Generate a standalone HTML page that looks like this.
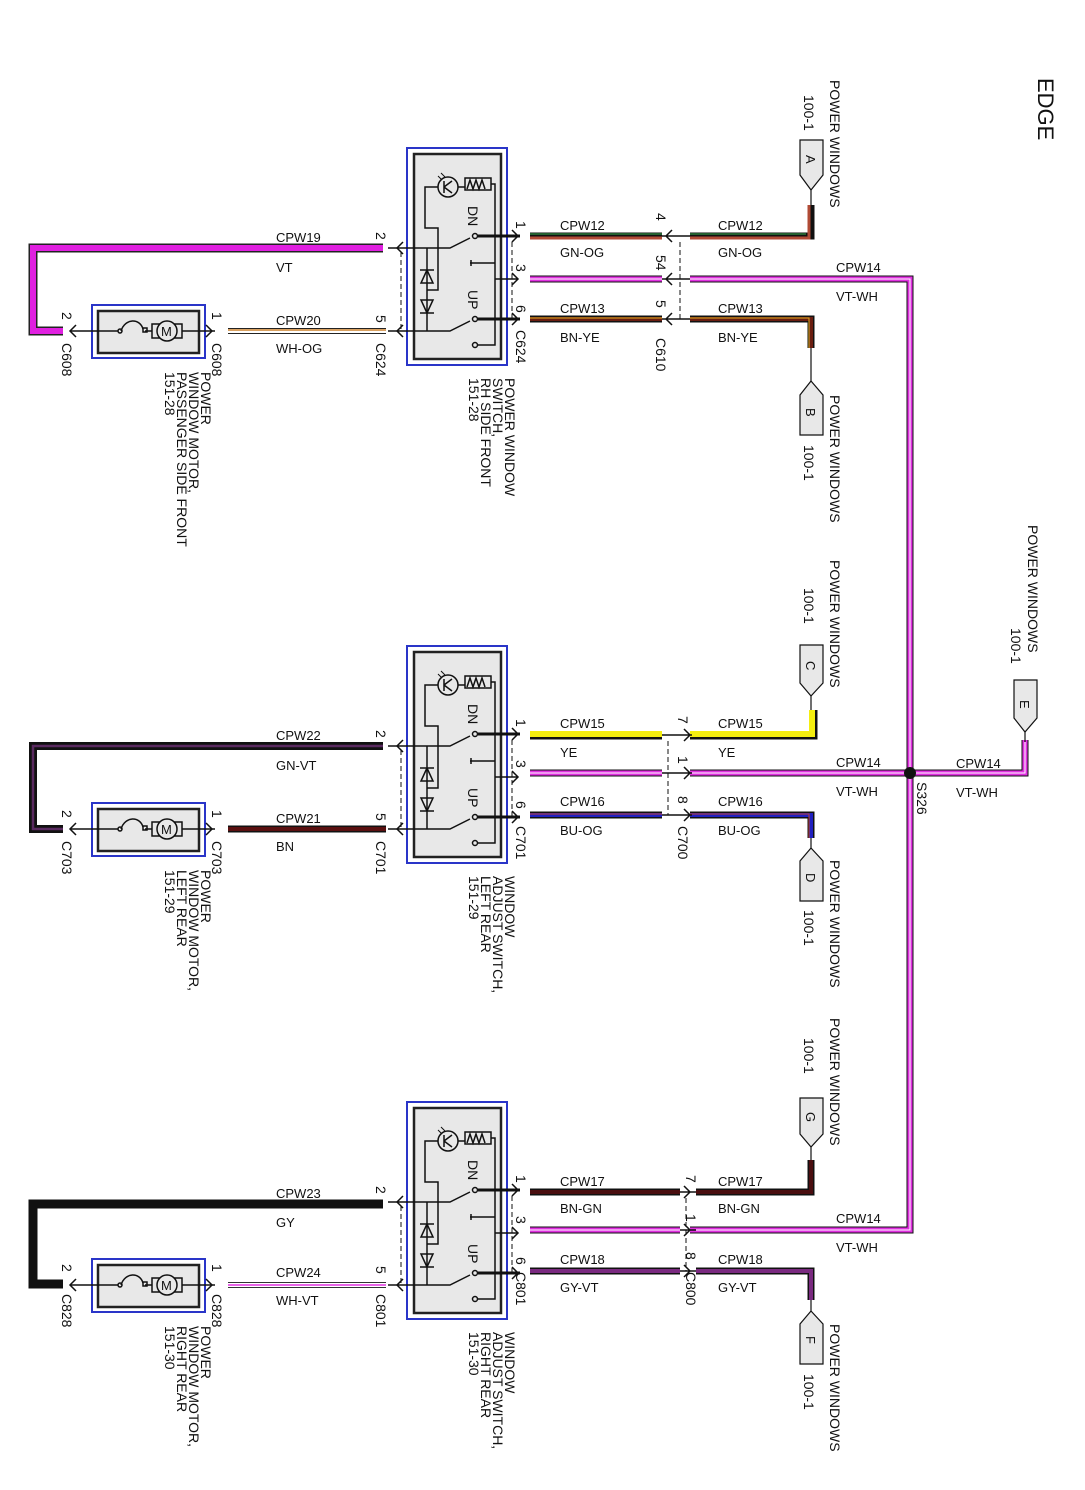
<!DOCTYPE html>
<html><head><meta charset="utf-8"><style>
html,body{margin:0;padding:0;background:#fff;}
svg{display:block;}
text{font-family:"Liberation Sans",sans-serif;font-size:13px;fill:#111;}
.r{font-size:14px;}
</style></head><body>
<svg width="1085" height="1490" viewBox="0 0 1085 1490" xmlns="http://www.w3.org/2000/svg">
<defs>
<g id="sw">
  <rect x="407" y="148" width="100" height="217" fill="none" stroke="#2a35c8" stroke-width="2"/>
  <rect x="414" y="154" width="87" height="205" fill="#e8e8e8" stroke="#222" stroke-width="2.5"/>
  <g stroke="#111" stroke-width="1.5" fill="none">
    <circle cx="448" cy="187" r="10"/>
    <path d="M444,181 V193 M444,187 L452,181 M444,187 L452,193"/>
    <path d="M438,176 l4,4 M441,173 l4,4" stroke-width="1"/>
    <rect x="465" y="178" width="26" height="12"/>
    <path d="M467,189 l3,-9 l3,9 l3,-9 l3,9 l3,-9 l3,9"/>
    <path d="M458,187 H465 M491,184 H495 V345 H477"/>
    <path d="M438,187 H425 V228 H438 V290 H427"/>
    <path d="M388,248 H450 L470,238"/>
    <path d="M388,331 H450 L470,321"/>
    <path d="M427,248 V331"/>
    <path d="M420,270 H434 M427,270 L421,283 H433 Z"/>
    <path d="M420,313 H434 M427,313 L421,300 H433 Z"/>
    <circle cx="475" cy="236" r="2.5"/><circle cx="475" cy="319" r="2.5"/>
    <circle cx="475" cy="345" r="2.5"/>
    <path d="M470,263 H495 M471,260 v6"/>
    <path d="M495,279 H518"/>
    <path d="M403,242 L397,248 L403,254 M403,325 L397,331 L403,337"/>
    <path d="M512,230 L518,236 L512,242 M512,273 L518,279 L512,285 M512,313 L518,319 L512,325"/>
    <path d="M401,252 V331 M512,242 V319" stroke-dasharray="5,3" stroke-width="1"/>
  </g>
  <path d="M478,236 H520 M478,319 H520" stroke="#111" stroke-width="3"/>
  <text transform="translate(468,206) rotate(90)" style="font-size:14px">DN</text>
  <text transform="translate(468,290) rotate(90)" style="font-size:14px">UP</text>
</g>
<g id="mot">
  <rect x="92" y="305" width="113" height="53" fill="none" stroke="#2a35c8" stroke-width="2"/>
  <rect x="98" y="311" width="101" height="42" fill="#e8e8e8" stroke="#222" stroke-width="2.5"/>
  <g stroke="#111" stroke-width="1.5" fill="none">
    <path d="M70,331 H118 M145,331 H152 M182,331 H215"/>
    <path d="M121,331 C125,318 140,318 143,329"/>
    <circle cx="120" cy="331" r="2"/><rect x="143" y="328" width="4" height="4"/>
    <rect x="152" y="324" width="30" height="14" fill="#e8e8e8"/>
    <circle cx="167" cy="331" r="10" fill="#e8e8e8"/>
    <path d="M76,325 L70,331 L76,337 M206,325 L212,331 L206,337"/>
  </g>
  <text x="161" y="336" style="font-size:13px">M</text>
</g>
</defs>

<text transform="translate(1038,78) rotate(90)" style="font-size:22px">EDGE</text>

<path d="M690,279 H910 V1230 H690" fill="none" stroke="#111" stroke-width="7"/>
<path d="M690,279 H910 V1230 H690" fill="none" stroke="#e030e0" stroke-width="5"/>
<path d="M690,279 H910 V1230 H690" fill="none" stroke="#fff" stroke-width="1"/>
<path d="M690,773 H910 M910,773 H1025 V740" fill="none" stroke="#111" stroke-width="7"/>
<path d="M690,773 H910 M910,773 H1025 V740" fill="none" stroke="#e030e0" stroke-width="5"/>
<path d="M690,773 H910 M910,773 H1025 V740" fill="none" stroke="#fff" stroke-width="1"/>
<circle cx="910" cy="773" r="6" fill="#111"/>
<text transform="translate(917,782) rotate(90)" class="r">S326</text>
<text x="956" y="768">CPW14</text><text x="956" y="797">VT-WH</text>
<path d="M1014,680 H1037 V718 L1025,732 L1014,718 Z" fill="#e8e8e8" stroke="#111" stroke-width="1.2"/>
<path d="M1025,732 V742" stroke="#111" stroke-width="1.2"/>
<text transform="translate(1020,700) rotate(90)">E</text>
<text transform="translate(1028,525) rotate(90)" class="r">POWER WINDOWS</text>
<text transform="translate(1011,628) rotate(90)" class="r">100-1</text>

<!-- SECTION 1 -->
<use href="#sw"/><use href="#mot"/>
<path d="M383,248 H33 V331 H63" fill="none" stroke="#222" stroke-width="9"/>
<path d="M383,248 H33 V331 H63" fill="none" stroke="#e020e0" stroke-width="6"/>
<path d="M228,331 H386" stroke="#222" stroke-width="6"/><path d="M228,331 H386" stroke="#fff" stroke-width="4"/><path d="M228,330 H386" stroke="#d8a060" stroke-width="2"/>
<text x="276" y="242">CPW19</text><text x="276" y="272">VT</text>
<text x="276" y="325">CPW20</text><text x="276" y="353">WH-OG</text>
<text transform="translate(376,232) rotate(90)" class="r">2</text>
<text transform="translate(376,315) rotate(90)" class="r">5</text>
<text transform="translate(376,343) rotate(90)" class="r">C624</text>
<text transform="translate(212,312) rotate(90)" class="r">1</text>
<text transform="translate(212,343) rotate(90)" class="r">C608</text>
<text transform="translate(62,312) rotate(90)" class="r">2</text>
<text transform="translate(62,343) rotate(90)" class="r">C608</text>
<text transform="translate(505,378) rotate(90)" class="r"><tspan x="0">POWER WINDOW</tspan><tspan x="0" dy="12">SWITCH,</tspan><tspan x="0" dy="12">RH SIDE FRONT</tspan><tspan x="0" dy="12">151-28</tspan></text>
<text transform="translate(201,372) rotate(90)" class="r"><tspan x="0">POWER</tspan><tspan x="0" dy="12">WINDOW MOTOR,</tspan><tspan x="0" dy="12">PASSENGER SIDE FRONT</tspan><tspan x="0" dy="12">151-28</tspan></text>
<path d="M530,236 H662 M690,236 H811 V205" fill="none" stroke="#111" stroke-width="7"/>
<path d="M530,238 H662 M690,238 H809 V205" fill="none" stroke="#b04a35" stroke-width="3"/>
<path d="M530,234 H662 M690,234 H806" fill="none" stroke="#2a7a3a" stroke-width="1.5"/>
<path d="M530,279 H662" stroke="#111" stroke-width="7"/><path d="M530,279 H662" stroke="#e030e0" stroke-width="5"/><path d="M530,279 H662" stroke="#fff" stroke-width="1"/>
<path d="M530,319 H662 M690,319 H811 V348" fill="none" stroke="#111" stroke-width="7"/>
<path d="M530,319 H662 M690,319 H811 V348" fill="none" stroke="#6a1d10" stroke-width="4"/>
<path d="M530,318 H662 M690,318 H809 V348" fill="none" stroke="#e0b020" stroke-width="1"/>
<g stroke="#111" stroke-width="1.5" fill="none"><path d="M672,230 L666,236 L672,242 M672,273 L666,279 L672,285 M672,313 L666,319 L672,325 M662,236 H690 M662,279 H690 M662,319 H690"/>
<path d="M680,242 V319" stroke-dasharray="5,3" stroke-width="1"/></g>
<text x="560" y="230">CPW12</text><text x="560" y="257">GN-OG</text>
<text x="718" y="230">CPW12</text><text x="718" y="257">GN-OG</text>
<text x="836" y="272">CPW14</text><text x="836" y="301">VT-WH</text>
<text x="560" y="313">CPW13</text><text x="560" y="342">BN-YE</text>
<text x="718" y="313">CPW13</text><text x="718" y="342">BN-YE</text>
<text transform="translate(516,221) rotate(90)" class="r">1</text>
<text transform="translate(516,264) rotate(90)" class="r">3</text>
<text transform="translate(516,305) rotate(90)" class="r">6</text>
<text transform="translate(516,330) rotate(90)" class="r">C624</text>
<text transform="translate(656,213) rotate(90)" class="r">4</text>
<text transform="translate(656,255) rotate(90)" class="r">54</text>
<text transform="translate(656,300) rotate(90)" class="r">5</text>
<text transform="translate(656,338) rotate(90)" class="r">C610</text>
<path d="M800,140 H823 V175 L811,190 L800,175 Z" fill="#e8e8e8" stroke="#111" stroke-width="1.2"/>
<path d="M811,190 V205" stroke="#111" stroke-width="1.2"/>
<text transform="translate(806,155) rotate(90)">A</text>
<text transform="translate(830,80) rotate(90)" class="r">POWER WINDOWS</text>
<text transform="translate(804,95) rotate(90)" class="r">100-1</text>
<path d="M800,435 H823 V395 L811,381 L800,395 Z" fill="#e8e8e8" stroke="#111" stroke-width="1.2"/>
<path d="M811,381 V348" stroke="#111" stroke-width="1.2"/>
<text transform="translate(806,408) rotate(90)">B</text>
<text transform="translate(830,395) rotate(90)" class="r">POWER WINDOWS</text>
<text transform="translate(804,445) rotate(90)" class="r">100-1</text>

<!-- SECTION 2 -->
<g transform="translate(0,498)">
<use href="#sw"/><use href="#mot"/>
<path d="M383,248 H33 V331 H63" fill="none" stroke="#111" stroke-width="8"/>
<path d="M383,248 H33 V331 H63" fill="none" stroke="#5a2a60" stroke-width="2.5"/>
<path d="M228,331 H386" stroke="#111" stroke-width="7"/><path d="M228,331 H386" stroke="#5a1010" stroke-width="4"/>
<text x="276" y="242">CPW22</text><text x="276" y="272">GN-VT</text>
<text x="276" y="325">CPW21</text><text x="276" y="353">BN</text>
<text transform="translate(376,232) rotate(90)" class="r">2</text>
<text transform="translate(376,315) rotate(90)" class="r">5</text>
<text transform="translate(376,343) rotate(90)" class="r">C701</text>
<text transform="translate(212,312) rotate(90)" class="r">1</text>
<text transform="translate(212,343) rotate(90)" class="r">C703</text>
<text transform="translate(62,312) rotate(90)" class="r">2</text>
<text transform="translate(62,343) rotate(90)" class="r">C703</text>
<text transform="translate(505,378) rotate(90)" class="r"><tspan x="0">WINDOW</tspan><tspan x="0" dy="12">ADJUST SWITCH,</tspan><tspan x="0" dy="12">LEFT REAR</tspan><tspan x="0" dy="12">151-29</tspan></text>
<text transform="translate(201,372) rotate(90)" class="r"><tspan x="0">POWER</tspan><tspan x="0" dy="12">WINDOW MOTOR,</tspan><tspan x="0" dy="12">LEFT REAR</tspan><tspan x="0" dy="12">151-29</tspan></text>
<path d="M530,238 H662 M690,238 H814 V212" fill="none" stroke="#111" stroke-width="7"/>
<path d="M530,236 H662 M690,236 H812 V212" fill="none" stroke="#f4ee10" stroke-width="6"/>
<path d="M530,275 H662" stroke="#111" stroke-width="7"/><path d="M530,275 H662" stroke="#e030e0" stroke-width="5"/><path d="M530,275 H662" stroke="#fff" stroke-width="1"/>
<path d="M530,317 H662 M690,317 H811 V340" fill="none" stroke="#111" stroke-width="7"/>
<path d="M530,317 H662 M690,317 H811 V340" fill="none" stroke="#2020c0" stroke-width="4"/>
<path d="M530,316 H662 M690,316 H809 V340" fill="none" stroke="#c04030" stroke-width="1"/>
<g stroke="#111" stroke-width="1.5" fill="none"><path d="M684,231 L690,237 L684,243 M684,269 L690,275 L684,281 M684,311 L690,317 L684,323 M662,237 H692 M662,275 H692 M662,317 H692"/>
<path d="M668,243 V317" stroke-dasharray="5,3" stroke-width="1"/></g>
<text x="560" y="230">CPW15</text><text x="560" y="259">YE</text>
<text x="718" y="230">CPW15</text><text x="718" y="259">YE</text>
<text x="836" y="269">CPW14</text><text x="836" y="298">VT-WH</text>
<text x="560" y="308">CPW16</text><text x="560" y="337">BU-OG</text>
<text x="718" y="308">CPW16</text><text x="718" y="337">BU-OG</text>
<text transform="translate(516,221) rotate(90)" class="r">1</text>
<text transform="translate(516,262) rotate(90)" class="r">3</text>
<text transform="translate(516,303) rotate(90)" class="r">6</text>
<text transform="translate(516,328) rotate(90)" class="r">C701</text>
<text transform="translate(678,218) rotate(90)" class="r">7</text>
<text transform="translate(678,258) rotate(90)" class="r">1</text>
<text transform="translate(678,298) rotate(90)" class="r">8</text>
<text transform="translate(678,328) rotate(90)" class="r">C700</text>
<path d="M800,147 H823 V185 L811,198 L800,185 Z" fill="#e8e8e8" stroke="#111" stroke-width="1.2"/>
<path d="M811,198 V212" stroke="#111" stroke-width="1.2"/>
<text transform="translate(806,163) rotate(90)">C</text>
<text transform="translate(830,62) rotate(90)" class="r">POWER WINDOWS</text>
<text transform="translate(804,90) rotate(90)" class="r">100-1</text>
<path d="M800,403 H823 V363 L811,350 L800,363 Z" fill="#e8e8e8" stroke="#111" stroke-width="1.2"/>
<path d="M811,350 V340" stroke="#111" stroke-width="1.2"/>
<text transform="translate(806,375) rotate(90)">D</text>
<text transform="translate(830,362) rotate(90)" class="r">POWER WINDOWS</text>
<text transform="translate(804,412) rotate(90)" class="r">100-1</text>
</g>

<!-- SECTION 3 -->
<g transform="translate(0,954)">
<use href="#sw"/><use href="#mot"/>
<path d="M383,250 H33 V330 H63" fill="none" stroke="#111" stroke-width="9"/>
<path d="M228,331 H386" stroke="#333" stroke-width="6"/><path d="M228,331 H386" stroke="#fff" stroke-width="4"/><path d="M228,331 H386" stroke="#e030e0" stroke-width="1.5"/>
<text x="276" y="244">CPW23</text><text x="276" y="273">GY</text>
<text x="276" y="323">CPW24</text><text x="276" y="351">WH-VT</text>
<text transform="translate(376,232) rotate(90)" class="r">2</text>
<text transform="translate(376,312) rotate(90)" class="r">5</text>
<text transform="translate(376,340) rotate(90)" class="r">C801</text>
<text transform="translate(212,310) rotate(90)" class="r">1</text>
<text transform="translate(212,340) rotate(90)" class="r">C828</text>
<text transform="translate(62,310) rotate(90)" class="r">2</text>
<text transform="translate(62,340) rotate(90)" class="r">C828</text>
<text transform="translate(505,378) rotate(90)" class="r"><tspan x="0">WINDOW</tspan><tspan x="0" dy="12">ADJUST SWITCH,</tspan><tspan x="0" dy="12">RIGHT REAR</tspan><tspan x="0" dy="12">151-30</tspan></text>
<text transform="translate(201,372) rotate(90)" class="r"><tspan x="0">POWER</tspan><tspan x="0" dy="12">WINDOW MOTOR,</tspan><tspan x="0" dy="12">RIGHT REAR</tspan><tspan x="0" dy="12">151-30</tspan></text>
<path d="M530,238 H680 M696,238 H811 V206" fill="none" stroke="#111" stroke-width="7"/>
<path d="M530,238 H680 M696,238 H811 V206" fill="none" stroke="#4a0e10" stroke-width="4"/>
<path d="M530,276 H680" stroke="#111" stroke-width="7"/><path d="M530,276 H680" stroke="#e030e0" stroke-width="5"/><path d="M530,276 H680" stroke="#fff" stroke-width="1"/>
<path d="M530,317 H680 M696,317 H811 V346" fill="none" stroke="#111" stroke-width="7"/>
<path d="M530,317 H680 M696,317 H811 V346" fill="none" stroke="#7a2a80" stroke-width="4"/>
<g stroke="#111" stroke-width="1.5" fill="none"><path d="M684,232 L690,238 L684,244 M684,270 L690,276 L684,282 M684,311 L690,317 L684,323 M680,238 H696 M680,276 H696 M680,317 H696"/>
<path d="M686,244 V317" stroke-dasharray="5,3" stroke-width="1"/></g>
<text x="560" y="232">CPW17</text><text x="560" y="259">BN-GN</text>
<text x="718" y="232">CPW17</text><text x="718" y="259">BN-GN</text>
<text x="836" y="269">CPW14</text><text x="836" y="298">VT-WH</text>
<text x="560" y="310">CPW18</text><text x="560" y="338">GY-VT</text>
<text x="718" y="310">CPW18</text><text x="718" y="338">GY-VT</text>
<text transform="translate(516,221) rotate(90)" class="r">1</text>
<text transform="translate(516,262) rotate(90)" class="r">3</text>
<text transform="translate(516,303) rotate(90)" class="r">6</text>
<text transform="translate(516,318) rotate(90)" class="r">C801</text>
<text transform="translate(686,221) rotate(90)" class="r">7</text>
<text transform="translate(686,260) rotate(90)" class="r">1</text>
<text transform="translate(686,298) rotate(90)" class="r">8</text>
<text transform="translate(686,318) rotate(90)" class="r">C800</text>
<path d="M800,144 H823 V180 L811,193 L800,180 Z" fill="#e8e8e8" stroke="#111" stroke-width="1.2"/>
<path d="M811,193 V206" stroke="#111" stroke-width="1.2"/>
<text transform="translate(806,158) rotate(90)">G</text>
<text transform="translate(830,64) rotate(90)" class="r">POWER WINDOWS</text>
<text transform="translate(804,84) rotate(90)" class="r">100-1</text>
<path d="M800,410 H823 V370 L811,357 L800,370 Z" fill="#e8e8e8" stroke="#111" stroke-width="1.2"/>
<path d="M811,357 V346" stroke="#111" stroke-width="1.2"/>
<text transform="translate(806,382) rotate(90)">F</text>
<text transform="translate(830,370) rotate(90)" class="r">POWER WINDOWS</text>
<text transform="translate(804,420) rotate(90)" class="r">100-1</text>
</g>
</svg>
</body></html>
